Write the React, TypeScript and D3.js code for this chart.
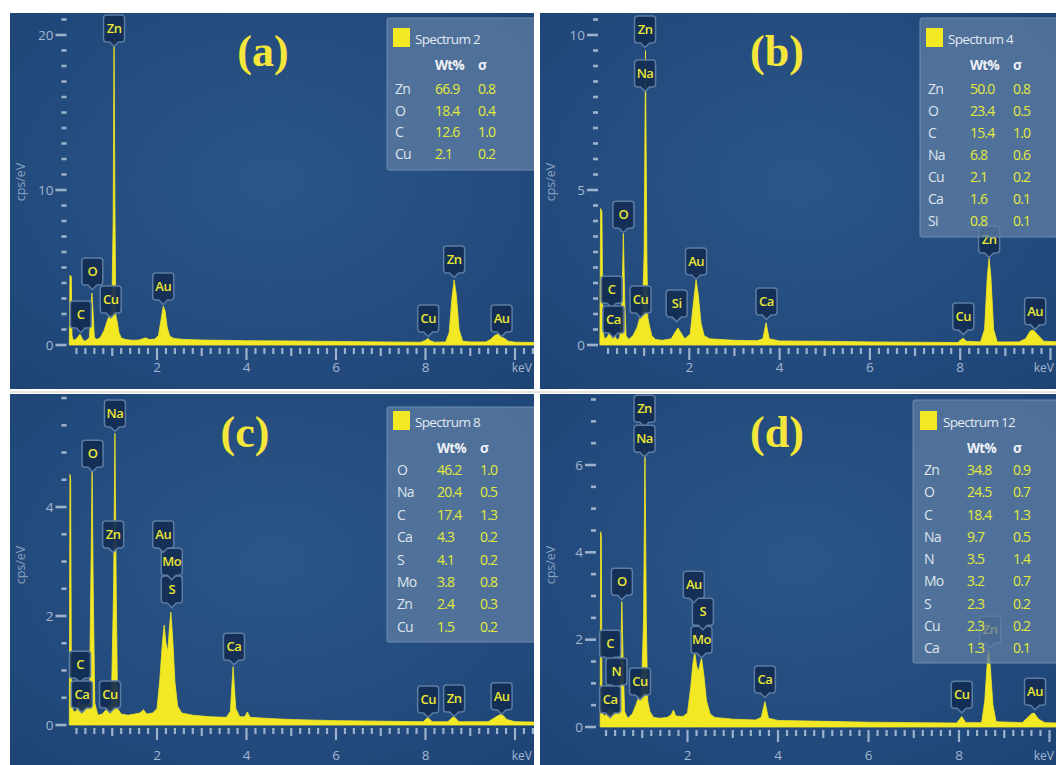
import React from "react";
import * as d3 from "d3";

type Pt = [number, number];
type Lbl = [string, number, number];
type Row = [string, string, string];

// ---------- spectra (keV, cps/eV) ----------
const specA: Pt[] = [[0.04,0],[0.055,4.5],[0.085,4.4],[0.1,0.6],[0.13,0.3],[0.18,0.35],[0.24,0.55],[0.28,0.7],[0.32,0.45],[0.37,0.25],[0.43,0.3],[0.49,0.5],[0.52,2.2],[0.545,3.35],[0.57,2.2],[0.6,0.5],[0.66,0.35],[0.74,0.5],[0.82,0.95],[0.88,1.5],[0.93,1.85],[0.99,2.1],[1.02,8],[1.04,19.8],[1.06,9],[1.08,1.9],[1.11,1.5],[1.15,0.8],[1.2,0.45],[1.3,0.35],[1.45,0.3],[1.6,0.32],[1.7,0.42],[1.75,0.46],[1.82,0.35],[1.95,0.38],[2.03,0.6],[2.09,1.6],[2.14,2.5],[2.18,2.2],[2.23,1.1],[2.29,0.55],[2.38,0.42],[2.6,0.36],[3.0,0.32],[3.5,0.3],[4,0.28],[5,0.26],[6,0.23],[7,0.2],[7.9,0.18],[8.0,0.3],[8.05,0.42],[8.11,0.28],[8.2,0.18],[8.45,0.2],[8.53,0.8],[8.59,3.0],[8.64,4.2],[8.69,3.2],[8.75,1.0],[8.83,0.25],[9.0,0.2],[9.35,0.2],[9.45,0.35],[9.55,0.62],[9.63,0.72],[9.72,0.5],[9.85,0.25],[10.0,0.18],[10.6,0.15]];
const specB: Pt[] = [[0.02,0],[0.035,4.4],[0.065,4.3],[0.085,0.5],[0.12,0.2],[0.18,0.25],[0.24,0.42],[0.29,0.2],[0.35,0.32],[0.4,0.15],[0.46,0.25],[0.51,1.5],[0.54,3.6],[0.57,1.4],[0.6,0.3],[0.66,0.18],[0.75,0.3],[0.84,0.55],[0.9,0.85],[0.96,1.0],[1.0,3],[1.03,9.5],[1.06,3],[1.08,0.9],[1.12,0.6],[1.17,0.3],[1.25,0.18],[1.4,0.15],[1.6,0.2],[1.68,0.4],[1.75,0.55],[1.82,0.38],[1.9,0.2],[2.02,0.35],[2.08,1.2],[2.15,2.1],[2.2,1.6],[2.26,0.7],[2.33,0.3],[2.45,0.2],[3.0,0.15],[3.5,0.14],[3.63,0.2],[3.7,0.72],[3.77,0.2],[4.0,0.13],[5,0.12],[6,0.1],[7,0.09],[7.95,0.08],[8.0,0.15],[8.07,0.22],[8.13,0.12],[8.45,0.1],[8.54,0.5],[8.6,2.2],[8.64,2.8],[8.68,2.2],[8.74,0.5],[8.82,0.1],[9.3,0.1],[9.45,0.2],[9.55,0.45],[9.62,0.48],[9.72,0.32],[9.85,0.12],[10.6,0.08]];
const specC: Pt[] = [[0.04,0],[0.055,4.6],[0.07,4.5],[0.09,0.4],[0.13,0.25],[0.2,0.25],[0.26,0.45],[0.3,0.3],[0.35,0.4],[0.42,0.35],[0.49,0.4],[0.52,2.5],[0.55,4.68],[0.575,2.5],[0.61,0.4],[0.68,0.18],[0.78,0.2],[0.86,0.28],[0.92,0.35],[0.98,0.38],[1.03,2.5],[1.06,5.35],[1.09,2.4],[1.12,0.3],[1.2,0.2],[1.35,0.18],[1.5,0.2],[1.62,0.22],[1.7,0.28],[1.77,0.2],[1.9,0.22],[2.0,0.3],[2.06,0.8],[2.12,1.5],[2.16,1.83],[2.2,1.5],[2.24,1.35],[2.28,1.8],[2.31,2.07],[2.35,1.6],[2.4,0.8],[2.46,0.35],[2.55,0.22],[2.8,0.18],[3.2,0.15],[3.55,0.14],[3.64,0.25],[3.7,1.07],[3.76,0.3],[3.85,0.15],[3.96,0.15],[4.02,0.24],[4.08,0.14],[4.5,0.12],[5,0.1],[6,0.08],[7,0.07],[7.95,0.06],[8.05,0.14],[8.15,0.06],[8.5,0.06],[8.63,0.16],[8.75,0.06],[9.4,0.06],[9.6,0.16],[9.7,0.2],[9.82,0.1],[10.0,0.06],[10.6,0.05]];
const specD: Pt[] = [[0.07,0],[0.08,4.47],[0.095,4.4],[0.11,0.5],[0.15,0.25],[0.22,0.3],[0.28,0.45],[0.32,0.3],[0.37,0.38],[0.42,0.3],[0.49,0.35],[0.52,1.5],[0.55,2.87],[0.58,1.4],[0.61,0.35],[0.68,0.2],[0.78,0.3],[0.86,0.5],[0.92,0.68],[0.98,0.73],[1.03,2.5],[1.06,6.38],[1.09,2.4],[1.12,0.6],[1.17,0.35],[1.25,0.22],[1.4,0.2],[1.55,0.22],[1.64,0.28],[1.69,0.39],[1.74,0.25],[1.9,0.24],[2.0,0.32],[2.07,0.9],[2.12,1.45],[2.16,1.72],[2.2,1.4],[2.24,1.27],[2.28,1.45],[2.31,1.58],[2.36,1.2],[2.42,0.6],[2.5,0.3],[2.6,0.22],[3.0,0.18],[3.5,0.16],[3.63,0.22],[3.71,0.58],[3.79,0.2],[4.0,0.15],[5,0.13],[6,0.11],[7,0.1],[7.95,0.09],[8.06,0.24],[8.15,0.1],[8.5,0.1],[8.57,0.6],[8.62,1.4],[8.65,1.76],[8.69,1.4],[8.75,0.5],[8.82,0.12],[9.4,0.1],[9.52,0.22],[9.6,0.3],[9.66,0.32],[9.76,0.18],[9.9,0.1],[10.6,0.08]];

// ---------- peak labels: element, keV, cps at bottom of tag ----------
const labelsA: Lbl[] = [["Zn",1.04,19.55],["O",0.555,3.87],["C",0.295,1.1],["Cu",0.965,2.06],["Au",2.14,2.9],["Cu",8.06,0.84],["Zn",8.64,4.65],["Au",9.7,0.84]];
const labelsB: Lbl[] = [["Zn",1.02,9.74],["Na",1.02,8.32],["O",0.54,3.77],["C",0.28,1.35],["Ca",0.32,0.39],["Cu",0.92,1.03],["Si",1.72,0.9],["Au",2.15,2.26],["Ca",3.71,0.97],["Cu",8.07,0.48],["Zn",8.64,2.97],["Au",9.66,0.65]];
const labelsC: Lbl[] = [["Na",1.06,5.47],["O",0.56,4.73],["Zn",1.02,3.25],["S",2.33,2.24],["Mo",2.33,2.75],["Au",2.14,3.25],["C",0.28,0.86],["Ca",0.32,0.31],["Cu",0.95,0.31],["Ca",3.72,1.19],["Cu",8.06,0.22],["Zn",8.64,0.24],["Au",9.7,0.28]];
const labelsD: Lbl[] = [["Zn",1.05,6.98],["Na",1.05,6.29],["O",0.55,3.02],["C",0.29,1.6],["N",0.43,0.96],["Ca",0.29,0.32],["Cu",0.95,0.73],["Mo",2.31,1.69],["S",2.34,2.33],["Au",2.14,2.95],["Ca",3.71,0.78],["Cu",8.06,0.43],["Zn",8.69,1.92],["Au",9.68,0.5]];

// ---------- legend tables ----------
const titleA = "Spectrum 2";
const titleB = "Spectrum 4";
const titleC = "Spectrum 8";
const titleD = "Spectrum 12";
const legendA: Row[] = [["Zn","66.9","0.8"],["O","18.4","0.4"],["C","12.6","1.0"],["Cu","2.1","0.2"]];
const legendB: Row[] = [["Zn","50.0","0.8"],["O","23.4","0.5"],["C","15.4","1.0"],["Na","6.8","0.6"],["Cu","2.1","0.2"],["Ca","1.6","0.1"],["Si","0.8","0.1"]];
const legendC: Row[] = [["O","46.2","1.0"],["Na","20.4","0.5"],["C","17.4","1.3"],["Ca","4.3","0.2"],["S","4.1","0.2"],["Mo","3.8","0.8"],["Zn","2.4","0.3"],["Cu","1.5","0.2"]];
const legendD: Row[] = [["Zn","34.8","0.9"],["O","24.5","0.7"],["C","18.4","1.3"],["Na","9.7","0.5"],["N","3.5","1.4"],["Mo","3.2","0.7"],["S","2.3","0.2"],["Cu","2.3","0.2"],["Ca","1.3","0.1"]];

// ---------- axis ticks ----------
const xTickLabels = [2, 4, 6, 8];
const yTicksA = [0, 10, 20];
const yTicksB = [0, 5, 10];
const yTicksC = [0, 2, 4];
const yTicksD = [0, 2, 4, 6];
const panelLetters = ["(a)", "(b)", "(c)", "(d)"];

interface Cfg {
  id: string; letter: string; spec: Pt[]; labels: Lbl[]; rows: Row[]; title: string; yTicks: number[];
  rect: [number, number, number, number];
  xr: [number, number]; yd: [number, number]; yr: [number, number]; yStep: number; yMax: number;
  leg: [number, number, number, number]; lx: { sq: number; title: number; el: number; val: number; sig: number };
  ly: { title: number; head: number; row0: number; step: number };
  letterPos: [number, number]; xLabelY: number; yLabelPos: [number, number];
}

const panels: Cfg[] = [
  { id: "a", letter: panelLetters[0], spec: specA, labels: labelsA, rows: legendA, title: titleA, yTicks: yTicksA,
    rect: [10, 13, 524, 376], xr: [67.5, 515], yd: [0, 20], yr: [345, 35], yStep: 1, yMax: 21.2,
    leg: [387, 18, 150, 152], lx: { sq: 393, title: 415, el: 395, val: 435, sig: 478 },
    ly: { title: 44, head: 70, row0: 94, step: 21.5 }, letterPos: [263, 66], xLabelY: 372, yLabelPos: [25, 182] },
  { id: "b", letter: panelLetters[1], spec: specB, labels: labelsB, rows: legendB, title: titleB, yTicks: yTicksB,
    rect: [540, 13, 516, 376], xr: [599, 1050.5], yd: [0, 10], yr: [345, 35], yStep: 0.5, yMax: 10.6,
    leg: [920, 18, 140, 219], lx: { sq: 926, title: 948, el: 928, val: 970, sig: 1013 },
    ly: { title: 44, head: 70, row0: 94, step: 22 }, letterPos: [777, 66], xLabelY: 372, yLabelPos: [555, 182] },
  { id: "c", letter: panelLetters[2], spec: specC, labels: labelsC, rows: legendC, title: titleC, yTicks: yTicksC,
    rect: [10, 394, 524, 371], xr: [67.5, 515], yd: [0, 4], yr: [725, 507], yStep: 0.5, yMax: 6.05,
    leg: [387, 407, 150, 235], lx: { sq: 393, title: 415, el: 397, val: 437, sig: 480 },
    ly: { title: 427, head: 453, row0: 475, step: 22.4 }, letterPos: [245, 447], xLabelY: 760, yLabelPos: [25, 565] },
  { id: "d", letter: panelLetters[3], spec: specD, labels: labelsD, rows: legendD, title: titleD, yTicks: yTicksD,
    rect: [540, 394, 516, 371], xr: [597, 1049.5], yd: [0, 6], yr: [727, 465], yStep: 0.5, yMax: 7.55,
    leg: [913, 400, 145, 263], lx: { sq: 920, title: 943, el: 924, val: 967, sig: 1013 },
    ly: { title: 427, head: 453, row0: 475, step: 22.25 }, letterPos: [777, 447], xLabelY: 760, yLabelPos: [555, 565] },
];

const FONT = "'Open Sans', 'Noto Sans', sans-serif";
const YELLOW = "#f2e824";
const TICK = "#9cb1cc";

function tagPath(cx: number, bottom: number) {
  const w = 21, h = 27, r = 3, p = 4.5;
  const l = cx - w / 2, rt = cx + w / 2, t = bottom - h;
  return `M${l + r},${t} H${rt - r} Q${rt},${t} ${rt},${t + r} V${bottom - r} Q${rt},${bottom} ${rt - r},${bottom} H${cx + p} L${cx},${bottom + p} L${cx - p},${bottom} H${l + r} Q${l},${bottom} ${l},${bottom - r} V${t + r} Q${l},${t} ${l + r},${t} Z`;
}

function Panel({ c }: { c: Cfg }) {
  const x = d3.scaleLinear().domain([0, 10]).range(c.xr);
  const y = d3.scaleLinear().domain(c.yd).range(c.yr);
  const area = d3.area<Pt>().x(d => x(d[0])).y0(y(0)).y1(d => y(d[1]));
  const [rx, ry, rw, rh] = c.rect;
  const x0 = x(0);
  const minorY = d3.range(0, c.yMax + 1e-6, c.yStep);
  const minorX = d3.range(1, 53).map(i => i * 0.2);
  const base = y(0);
  const kevX = Math.min(x(10) + 20, rx + rw - 2);
  return (
    <g>
      <defs>
        <clipPath id={`clip-${c.id}`}><rect x={rx} y={ry} width={rw} height={rh} /></clipPath>
        <radialGradient id={`bg-${c.id}`} cx="0.5" cy="0.45" r="0.75">
          <stop offset="0" stopColor="#2c5688" />
          <stop offset="1" stopColor="#1e4476" />
        </radialGradient>
      </defs>
      <g clipPath={`url(#clip-${c.id})`}>
        <rect x={rx} y={ry} width={rw} height={rh} fill={`url(#bg-${c.id})`} />
        {/* y ticks */}
        {minorY.map((v, i) => {
          const major = c.yTicks.some(t => Math.abs(t - v) < 1e-6);
          return <line key={i} x1={x0 - (major ? 12 : 6)} x2={x0 - 1} y1={y(v)} y2={y(v)} stroke={TICK} strokeWidth={2.6} />;
        })}
        {c.yTicks.map(t => (
          <text key={t} x={x0 - 14} y={y(t)} dy="0.35em" textAnchor="end" fontFamily={FONT} fontSize={13.5} fill="#a3b7d1">{t}</text>
        ))}
        <text transform={`translate(${c.yLabelPos[0]},${c.yLabelPos[1]}) rotate(-90)`} textAnchor="middle" fontFamily={FONT} fontSize={12.5} fill="#8aa2c0">cps/eV</text>
        {/* x ticks */}
        {minorX.map((v, i) => {
          const k = Math.round(v * 5);
          const two = k % 10 === 0;
          const one = k % 5 === 0;
          return <line key={i} x1={x(v)} x2={x(v)} y1={base + 3} y2={base + (two ? 15 : one ? 11 : 9)} stroke={TICK} strokeWidth={2.2} />;
        })}
        {xTickLabels.map(t => (
          <text key={t} x={x(t)} y={c.xLabelY} textAnchor="middle" fontFamily={FONT} fontSize={13.5} fill="#a3b7d1">{t}</text>
        ))}
        <text x={kevX} y={c.xLabelY} textAnchor="end" fontFamily={FONT} fontSize={12} fill="#a3b7d1">keV</text>
        {/* spectrum */}
        <path d={area(c.spec) || ""} fill={YELLOW} stroke={YELLOW} strokeWidth={0.8} />
        {/* peak tags */}
        {c.labels.map(([el, e, v], i) => (
          <g key={i}>
            <path d={tagPath(x(e), y(v))} fill="#132c53" fillOpacity={0.92} stroke="#5b7ca4" strokeWidth={1.5} />
            <text x={x(e)} y={y(v) - 13.5} dy="0.35em" textAnchor="middle" fontFamily={FONT} fontSize={13} fontWeight={600} letterSpacing={-0.5} fill="#e9e635">{el}</text>
          </g>
        ))}
        {/* legend */}
        <rect x={c.leg[0]} y={c.leg[1]} width={c.leg[2]} height={c.leg[3]} rx={2} fill="#5b7ba2" fillOpacity={0.78} stroke="#6f8db1" strokeWidth={1} />
        <rect x={c.lx.sq} y={c.ly.title - 16} width={17} height={19} fill={YELLOW} />
        <text x={c.lx.title} y={c.ly.title} fontFamily={FONT} fontSize={13.5} letterSpacing={-0.7} fill="#e3e9f1">{c.title}</text>
        <text x={c.lx.val} y={c.ly.head} fontFamily={FONT} fontSize={13.5} fontWeight={700} letterSpacing={-0.7} fill="#eef2f7">Wt%</text>
        <text x={c.lx.sig} y={c.ly.head} fontFamily={FONT} fontSize={13.5} fontWeight={700} fill="#eef2f7">σ</text>
        {c.rows.map(([el, w, s], i) => {
          const yy = c.ly.row0 + i * c.ly.step;
          return (
            <g key={i} fontFamily={FONT} fontSize={14} letterSpacing={-0.8}>
              <text x={c.lx.el} y={yy} fill="#dfe5ee">{el}</text>
              <text x={c.lx.val} y={yy} fill="#e3ea3c">{w}</text>
              <text x={c.lx.sig} y={yy} fill="#e3ea3c">{s}</text>
            </g>
          );
        })}
        {/* panel letter */}
        <text x={c.letterPos[0]} y={c.letterPos[1]} textAnchor="middle" fontFamily="'Liberation Serif', 'Times New Roman', serif" fontWeight={700} fontSize={44} fill="#f5e63c">{c.letter}</text>
      </g>
    </g>
  );
}

export default function App() {
  return (
    <svg width={1056} height={765} style={{ position: "absolute", left: 0, top: 0, background: "#ffffff" }}>
      <rect x={0} y={0} width={1056} height={765} fill="#ffffff" />
      {panels.map(p => <Panel key={p.id} c={p} />)}
      <line x1={10} x2={1056} y1={392} y2={392} stroke="#c8c8c8" strokeWidth={1} />
    </svg>
  );
}
